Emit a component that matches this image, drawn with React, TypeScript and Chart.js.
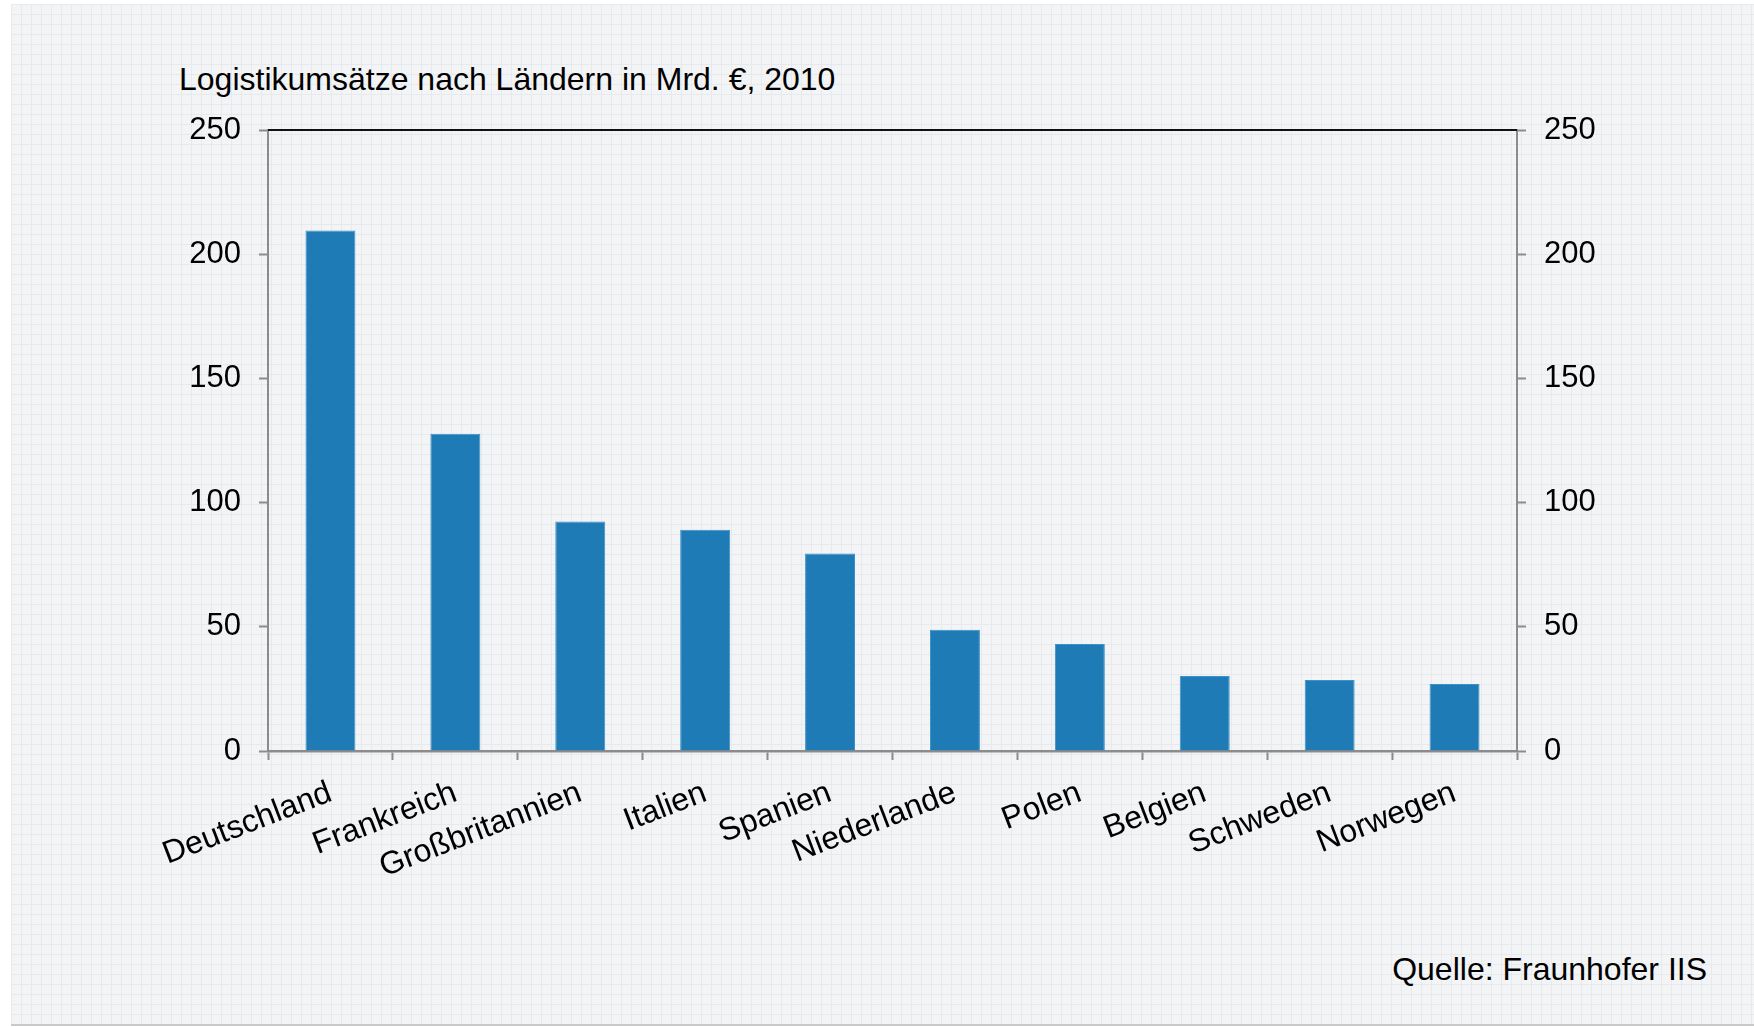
import React, { useEffect, useRef } from "react";
import { Chart, registerables } from "chart.js";

Chart.register(...registerables);

const title = "Logistikumsätze nach Ländern in Mrd. €, 2010";
const source = "Quelle: Fraunhofer IIS";
const countries = [
  "Deutschland",
  "Frankreich",
  "Großbritannien",
  "Italien",
  "Spanien",
  "Niederlande",
  "Polen",
  "Belgien",
  "Schweden",
  "Norwegen",
];
const revenue = [209.5, 127.7, 92.4, 89.1, 79.5, 48.8, 43.1, 30.2, 28.6, 27.0];
const axisMin = 0;
const axisMax = 250;
const axisStep = 50;

const W = 1754;
const H = 1027;
const FONT = "'Liberation Sans', Arial, Helvetica, sans-serif";
const AXIS_GRAY = "#8c8c8c";

const topLinePlugin = {
  id: "topLine",
  afterDraw(chart: any) {
    const { ctx, chartArea } = chart;
    ctx.save();
    ctx.strokeStyle = "#111";
    ctx.lineWidth = 2;
    ctx.beginPath();
    ctx.moveTo(chartArea.left, chartArea.top);
    ctx.lineTo(chartArea.right, chartArea.top);
    ctx.stroke();
    ctx.restore();
  },
};

export default function App() {
  const canvasRef = useRef<HTMLCanvasElement | null>(null);

  useEffect(() => {
    document.body.style.margin = "0";
    document.body.style.overflow = "hidden";
    const canvas = canvasRef.current;
    if (!canvas) return;
    const yAxisCommon = {
      min: axisMin,
      max: axisMax,
      grid: {
        display: true,
        drawOnChartArea: false,
        drawTicks: true,
        tickLength: 9,
        tickWidth: 2,
        tickColor: AXIS_GRAY,
      },
      border: { display: true, color: AXIS_GRAY, width: 2 },
      ticks: {
        stepSize: axisStep,
        color: "#000",
        padding: 18,
        font: { family: FONT, size: 31 },
      },
    };
    const chart = new Chart(canvas, {
      type: "bar",
      data: {
        labels: countries,
        datasets: [
          {
            data: revenue,
            backgroundColor: "#1f7bb6",
            borderColor: "#3d91c8",
            borderWidth: 1,
            barPercentage: 0.8,
            categoryPercentage: 0.5,
            yAxisID: "y",
          },
        ],
      },
      options: {
        animation: false,
        responsive: false,
        maintainAspectRatio: false,
        devicePixelRatio: 1,
        layout: { padding: { left: 0, right: 0, top: 130, bottom: 0 } },
        plugins: {
          legend: { display: false },
          tooltip: { enabled: false },
          title: { display: false },
        },
        scales: {
          x: {
            grid: {
              display: true,
              offset: true,
              drawOnChartArea: false,
              drawTicks: true,
              tickLength: 9,
              tickWidth: 2,
              tickColor: AXIS_GRAY,
            },
            border: { display: true, color: AXIS_GRAY, width: 2.5 },
            ticks: {
              autoSkip: false,
              minRotation: 21,
              maxRotation: 21,
              padding: 14,
              color: "#000",
              font: { family: FONT, size: 32 },
            },
            afterFit: (s: any) => {
              s.height = H - 751;
              s.paddingLeft = 0;
              s.paddingRight = 0;
            },
          },
          y: {
            position: "left",
            ...yAxisCommon,
            afterFit: (s: any) => {
              s.width = 268;
              s.paddingTop = 0;
              s.paddingBottom = 0;
            },
          },
          y2: {
            position: "right",
            ...yAxisCommon,
            afterFit: (s: any) => {
              s.width = W - 1517;
              s.paddingTop = 0;
              s.paddingBottom = 0;
            },
          },
        },
      },
      plugins: [topLinePlugin],
    } as any);
    return () => chart.destroy();
  }, []);

  return (
    <div style={{ position: "absolute", left: 0, top: 0, width: W, height: H, background: "#fff", overflow: "hidden" }}>
      <div
        style={{
          position: "absolute",
          left: 11,
          top: 4,
          width: W - 11,
          height: 1020,
          backgroundColor: "#f3f4f6",
          backgroundImage:
            "linear-gradient(to right, #e8e9ed 1px, transparent 1px), linear-gradient(to bottom, #e8e9ed 1px, transparent 1px)",
          backgroundSize: "10px 10px",
          borderBottom: "2px solid #c9c9c9",
        }}
      />
      <div
        style={{
          position: "absolute",
          left: 179,
          top: 63,
          fontFamily: FONT,
          fontSize: 32,
          lineHeight: 1,
          color: "#000",
          whiteSpace: "nowrap",
        }}
      >
        {title}
      </div>
      <div
        style={{
          position: "absolute",
          right: 47,
          top: 953,
          fontFamily: FONT,
          fontSize: 32,
          lineHeight: 1,
          color: "#000",
          whiteSpace: "nowrap",
        }}
      >
        {source}
      </div>
      <canvas
        ref={canvasRef}
        width={W}
        height={H}
        style={{ position: "absolute", left: 0, top: 0, width: W, height: H }}
      />
    </div>
  );
}
